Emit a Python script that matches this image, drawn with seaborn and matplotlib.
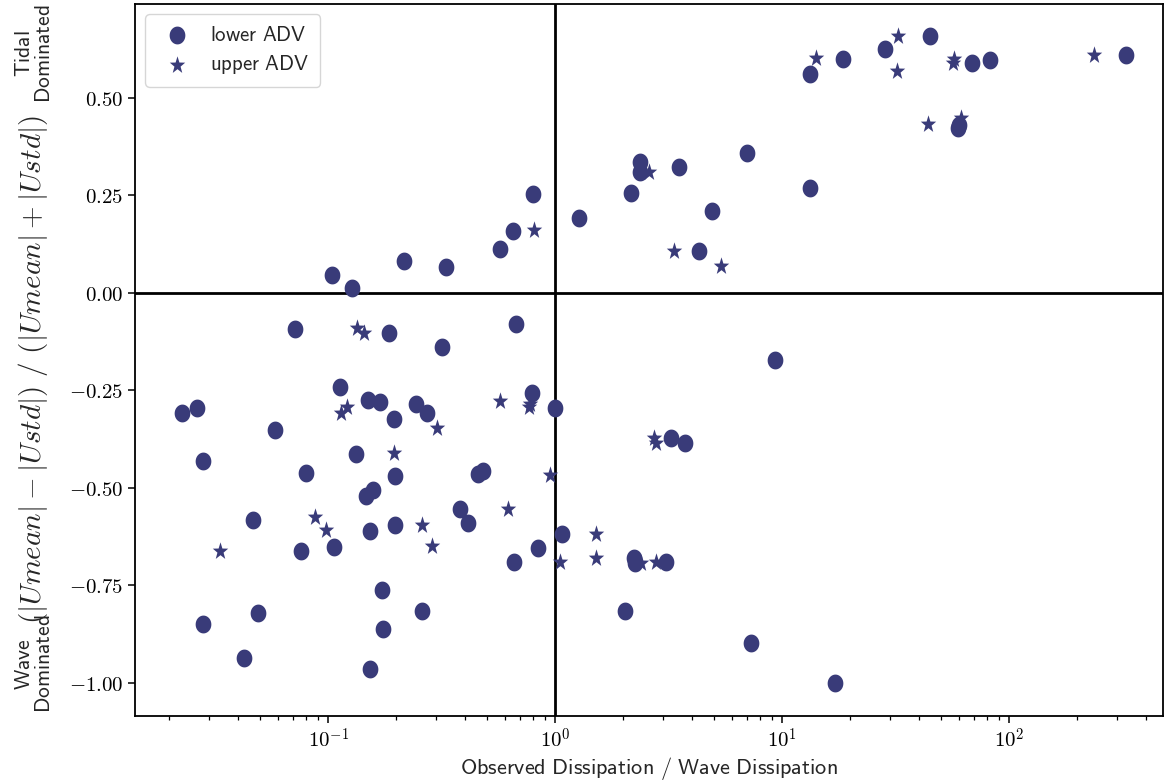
import numpy as np
import pandas as pd
import seaborn as sns
import matplotlib
matplotlib.use("Agg")
import matplotlib.pyplot as plt
from matplotlib.path import Path
from matplotlib.ticker import FixedLocator, FuncFormatter, LogLocator, NullFormatter

# Dissipation ratio (observed / wave) and flow-dominance index per burst
lower_ratio = [0.104, 0.128, 0.215, 0.331, 0.569, 0.652, 0.80,
               1.276, 2.167, 2.355, 2.355, 3.50, 4.92, 4.31, 6.98, 13.23, 13.23,
               18.57, 28.5, 44.7, 59.7, 60.3, 69.0, 82.4, 326.6,
               0.0711, 0.186, 0.317, 0.671, 0.113, 0.0227, 0.0264, 0.1506, 0.1696,
               0.244, 0.272, 0.195, 0.0584, 0.789, 1.0, 0.0281, 0.0798, 0.1328,
               0.198, 0.157, 0.1466, 0.480, 0.459, 0.382, 0.415, 0.0469, 0.153,
               0.198, 0.1063, 0.0758, 0.839, 0.662, 1.07, 0.172, 0.0493, 0.260,
               0.0281, 0.174, 0.0424, 0.153,
               9.29, 3.24, 3.72, 2.23, 2.26, 3.09, 2.03, 7.31, 17.1]
lower_index = [0.046, 0.012, 0.083, 0.067, 0.112, 0.160, 0.253,
               0.192, 0.257, 0.335, 0.309, 0.322, 0.209, 0.108, 0.358, 0.268, 0.5615,
               0.601, 0.626, 0.659, 0.424, 0.431, 0.589, 0.597, 0.609,
               -0.092, -0.103, -0.139, -0.079, -0.242, -0.307, -0.294, -0.274, -0.279,
               -0.285, -0.307, -0.323, -0.351, -0.257, -0.294, -0.432, -0.461, -0.413,
               -0.469, -0.505, -0.522, -0.456, -0.464, -0.554, -0.591, -0.582, -0.610,
               -0.595, -0.652, -0.663, -0.655, -0.691, -0.619, -0.762, -0.821, -0.817,
               -0.850, -0.862, -0.935, -0.964,
               -0.173, -0.373, -0.384, -0.679, -0.693, -0.689, -0.817, -0.898, -1.0]

upper_ratio = [0.811, 2.60, 3.34, 5.41, 14.16, 32.5, 32.0, 44.0, 61.5, 57.5, 56.5, 237.5,
               0.1346, 0.1445, 0.1209, 0.114, 0.301, 0.776, 0.77, 0.573, 0.195, 0.950,
               0.619, 0.0877, 0.098, 0.260, 0.286, 0.0334, 1.052,
               2.72, 2.78, 1.52, 1.52, 2.39, 2.78]
upper_index = [0.162, 0.311, 0.108, 0.068, 0.602, 0.659, 0.570, 0.432, 0.448, 0.600, 0.590, 0.610,
               -0.091, -0.103, -0.293, -0.307, -0.347, -0.284, -0.293, -0.277, -0.411, -0.468,
               -0.554, -0.574, -0.609, -0.595, -0.650, -0.663, -0.691,
               -0.373, -0.386, -0.619, -0.680, -0.693, -0.689]

series_names = ["lower ADV", "upper ADV"]
y_ticks = [-1.0, -0.75, -0.5, -0.25, 0.0, 0.25, 0.5]

sns.set_theme(style="ticks")
plt.rcParams["mathtext.fontset"] = "cm"
plt.rcParams["font.family"] = ["DejaVu Sans"]

color = "#393b79"

# slightly narrow marker shapes
theta = np.linspace(0, 2 * np.pi, 65)
ellipse = Path(np.column_stack([0.44 * np.cos(theta), 0.5 * np.sin(theta)]), closed=True)
star_angles = np.pi / 2 + np.arange(10) * np.pi / 5
star_r = np.where(np.arange(10) % 2 == 0, 1.0, 0.40)
star_pts = np.column_stack([0.88 * star_r * np.cos(star_angles), star_r * np.sin(star_angles)])
star = Path(np.vstack([star_pts, star_pts[:1]]), closed=True)

df_lower = pd.DataFrame({"ratio": lower_ratio, "index": lower_index})
df_upper = pd.DataFrame({"ratio": upper_ratio, "index": upper_index})

fig = plt.figure(figsize=(11.65, 7.82), dpi=100)
ax = fig.add_axes([0.1159, 0.0844, 0.8824, 0.9105])

sns.scatterplot(data=df_lower, x="ratio", y="index", ax=ax, color=color, marker=ellipse,
                s=165, linewidth=0, label=r"$\mathsf{" + series_names[0].replace(" ", r"\ ") + "}$")
sns.scatterplot(data=df_upper, x="ratio", y="index", ax=ax, color=color, marker=star,
                s=175, linewidth=0, label=r"$\mathsf{" + series_names[1].replace(" ", r"\ ") + "}$")

ax.set_xscale("log")
ax.set_xlim(0.0141, 477)
ax.set_ylim(-1.085, 0.741)

ax.axhline(0, color="black", lw=2, zorder=0.5)
ax.axvline(1, color="black", lw=2, zorder=0.5)

for s in ax.spines.values():
    s.set_color("black")
    s.set_linewidth(1.3)

ax.yaxis.set_major_locator(FixedLocator(y_ticks))
ax.yaxis.set_major_formatter(FuncFormatter(lambda v, p: r"$%.2f$" % v))
ax.xaxis.set_major_locator(LogLocator(base=10, numticks=10))
ax.xaxis.set_minor_locator(LogLocator(base=10, subs=np.arange(2, 10), numticks=20))
ax.xaxis.set_major_formatter(FuncFormatter(lambda v, p: r"$10^{%d}$" % int(round(np.log10(v)))))
ax.xaxis.set_minor_formatter(NullFormatter())
ax.tick_params(axis="both", which="major", direction="out", length=5, width=1.1,
               color="black", labelsize=15, labelcolor="black")
ax.tick_params(axis="x", which="minor", direction="out", length=3, width=0.9, color="black")

ax.set_xlabel(r"$\mathsf{Observed\ Dissipation\ /\ Wave\ Dissipation}$", fontsize=16, labelpad=2)
ax.set_ylabel(r"$(|Umean| - |Ustd|)\ /\ (|Umean| + |Ustd|)$", fontsize=21)
ax.yaxis.set_label_coords(-0.083, 0.487)

fig.text(0.029, 0.932, r"$\mathsf{Tidal}$" + "\n" + r"$\mathsf{Dominated}$", rotation=90,
         ha="center", va="center", ma="center", fontsize=15.5, linespacing=1.0)
fig.text(0.029, 0.151, r"$\mathsf{Wave}$" + "\n" + r"$\mathsf{Dominated}$", rotation=90,
         ha="center", va="center", ma="center", fontsize=15.5, linespacing=1.0)

leg = ax.legend(loc="upper left", fontsize=15, frameon=True, fancybox=True, framealpha=0.8,
                edgecolor="#cccccc", borderpad=0.5, handletextpad=0.6, labelspacing=0.4)

fig.savefig("out.png", dpi=100)
